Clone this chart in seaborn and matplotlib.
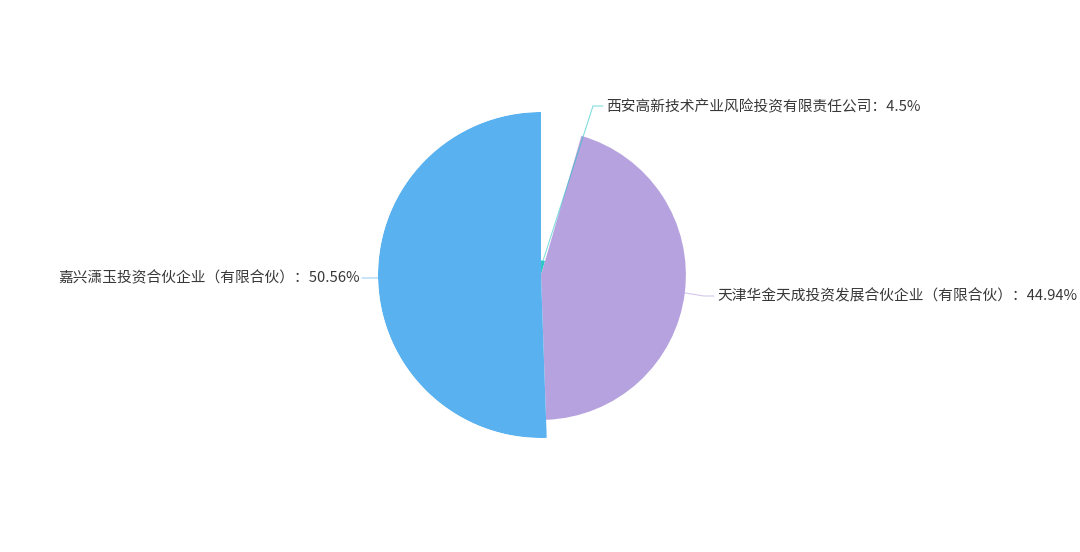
import numpy as np
import matplotlib
matplotlib.use("Agg")
import matplotlib.pyplot as plt
import seaborn as sns

# ---- data ----
names = ["西安高新技术产业风险投资有限责任公司", "天津华金天成投资发展合伙企业（有限合伙）", "嘉兴潇玉投资合伙企业（有限合伙）"]
values = [4.5, 44.94, 50.56]
pct_labels = ["4.5%", "44.94%", "50.56%"]
colors = ["#2ec7c9", "#b6a2de", "#5ab1ef"]

sns.set_theme(style="white")
plt.rcParams['font.family'] = ['Noto Sans CJK SC', 'DejaVu Sans']

W, H = 1080, 552
fig = plt.figure(figsize=(W / 100, H / 100), dpi=100)
fig.patch.set_facecolor("white")

cx, cy, R = 541, 275, 163
ax = fig.add_axes([(cx - R) / W, (H - cy - R) / H, 2 * R / W, 2 * R / H], projection="polar")
ax.set_theta_zero_location("N")
ax.set_theta_direction(-1)

vals = np.array(values)
widths = vals / vals.sum() * 2 * np.pi
starts = np.concatenate([[0], np.cumsum(widths)[:-1]])
mids = starts + widths / 2
ax.bar(mids, vals, width=widths, bottom=0, align="center", color=colors, linewidth=0)
ax.set_ylim(0, vals.max())
ax.set_axis_off()

# label layout (pixel positions, top-left origin): elbow, end of line, text anchor
layout = [
    dict(elbow=(593, 106), end=(603, 106), text=(606, 107), ha="left"),
    dict(elbow=(704, 296), end=(714, 296), text=(717, 296), ha="left"),
    dict(elbow=(370, 278), end=(362, 278), text=(360, 278), ha="right"),
]

fig.canvas.draw()
for i, lay in enumerate(layout):
    p = ax.transData.transform((mids[i], vals[i]))
    ex, ey = lay["elbow"][0], H - lay["elbow"][1]
    ang = np.degrees(np.arctan2(ey - p[1], ex - p[0]))
    sx, sy = lay["end"][0], H - lay["end"][1]
    ax.annotate("", xy=(mids[i], vals[i]), xycoords="data",
                xytext=(sx, sy), textcoords="figure pixels",
                arrowprops=dict(arrowstyle="-", color=colors[i], alpha=0.6, lw=0.8,
                                shrinkA=0, shrinkB=0,
                                connectionstyle=f"angle,angleA=0,angleB={ang},rad=0"),
                annotation_clip=False)
    fig.text(lay["text"][0] / W, 1 - lay["text"][1] / H, f"{names[i]}：{pct_labels[i]}",
             ha=lay["ha"], va="center", fontsize=10.6, color="#383838")

fig.savefig("out.png", dpi=100, facecolor="white")
